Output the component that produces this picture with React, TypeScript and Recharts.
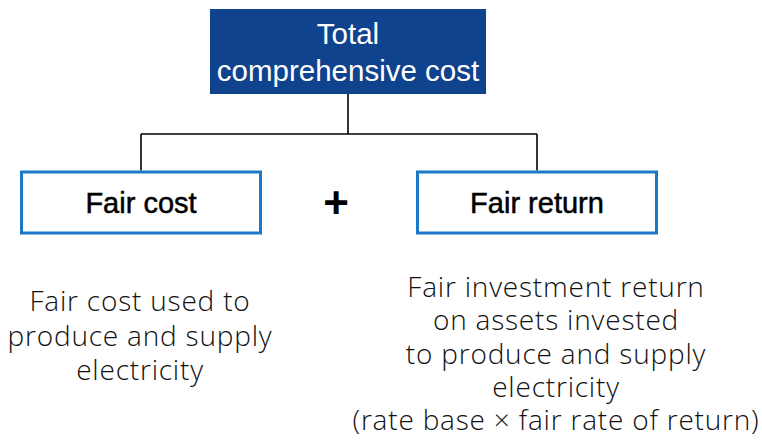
import React from "react";
import { ScatterChart, Scatter, XAxis, YAxis, ReferenceLine } from "recharts";

// diagram nodes (centre positions in a 762 x 441 layout space)
const nodeNames = ["total", "cost", "return"];
const nodeLines = [["Total", "comprehensive cost"], ["Fair cost"], ["Fair return"]];
const nodeX = [348, 141, 537];
const nodeY = [51.5, 202.5, 202.5];

// explanatory notes under each child box (first baseline)
const noteLines = [
  ["Fair cost used to", "produce and supply", "electricity"],
  [
    "Fair investment return",
    "on assets invested",
    "to produce and supply",
    "electricity",
    "(rate base × fair rate of return)",
  ],
];
const noteX = [140, 556];
const noteY = [311, 297];

const operatorX = [336];
const operatorY = [202];

const W = 762;
const H = 441;
const BOX_FONT = "'Liberation Sans', Arial, sans-serif";
const NOTE_FONT = "'Open Sans', 'Noto Sans', sans-serif";
const DARK_BLUE = "#10438e";
const LINE_BLUE = "#1b78c8";
const BUS_Y = 134;

const boxSize = (i: number) => (i === 0 ? { w: 276, h: 85 } : { w: 242, h: 64 });

const nodes = nodeNames.map((name, i) => ({
  name,
  lines: nodeLines[i],
  x: nodeX[i],
  y: nodeY[i],
  idx: i,
}));
const notes = noteLines.map((lines, i) => ({ lines, x: noteX[i], y: noteY[i] }));
const ops = operatorX.map((x, i) => ({ x, y: operatorY[i] }));

const NodeShape = (props: any) => {
  const { cx, cy, payload } = props;
  const { w, h } = boxSize(payload.idx);
  const isTop = payload.idx === 0;
  const n = payload.lines.length;
  const lh = 37;
  return (
    <g>
      {isTop ? (
        <rect x={cx - w / 2} y={cy - h / 2} width={w} height={h} fill={DARK_BLUE} />
      ) : (
        <rect
          x={cx - w / 2 + 1.5}
          y={cy - h / 2 + 1.5}
          width={w - 3}
          height={h - 3}
          fill="#fff"
          stroke={LINE_BLUE}
          strokeWidth={3}
        />
      )}
      {payload.lines.map((t: string, k: number) => (
        <text
          key={k}
          x={cx}
          y={cy + (k - (n - 1) / 2) * lh}
          dy="0.36em"
          textAnchor="middle"
          fontFamily={BOX_FONT}
          fontSize={isTop ? 29.5 : 29}
          fill={isTop ? "#fff" : "#000"}
          stroke={isTop ? "none" : "#000"}
          strokeWidth={isTop ? 0 : 0.5}
        >
          {t}
        </text>
      ))}
    </g>
  );
};

const NoteShape = (props: any) => {
  const { cx, cy, payload } = props;
  const lh = payload.lines.length > 3 ? 33.3 : 34.5;
  return (
    <text
      x={cx}
      y={cy}
      textAnchor="middle"
      fontFamily={NOTE_FONT}
      fontSize={28}
      fontWeight={300}
      letterSpacing={0.8}
      fill="#111"
    >
      {payload.lines.map((t: string, k: number) => (
        <tspan key={k} x={cx} y={cy + k * lh}>
          {t}
        </tspan>
      ))}
    </text>
  );
};

const OpShape = (props: any) => {
  const { cx, cy } = props;
  return (
    <text
      x={cx}
      y={cy}
      dy="0.36em"
      textAnchor="middle"
      fontFamily={BOX_FONT}
      fontSize={44}
      fontWeight={700}
      fill="#000"
    >
      +
    </text>
  );
};

export default function App() {
  const top = nodes[0];
  const topH = boxSize(0).h;
  const childH = boxSize(1).h;
  return (
    <div style={{ position: "absolute", left: 0, top: 0, background: "#fff" }}>
      <ScatterChart width={W} height={H} margin={{ top: 0, right: 0, bottom: 0, left: 0 }}>
        <XAxis type="number" dataKey="x" domain={[0, W]} hide />
        <YAxis type="number" dataKey="y" domain={[0, H]} reversed hide />
        <ReferenceLine
          segment={[
            { x: top.x, y: top.y + topH / 2 },
            { x: top.x, y: BUS_Y },
          ]}
          stroke="#000"
          strokeWidth={1.6}
        />
        <ReferenceLine
          segment={[
            { x: nodes[1].x, y: BUS_Y },
            { x: nodes[2].x, y: BUS_Y },
          ]}
          stroke="#000"
          strokeWidth={1.6}
        />
        {nodes.slice(1).map((nd) => (
          <ReferenceLine
            key={nd.name}
            segment={[
              { x: nd.x, y: BUS_Y },
              { x: nd.x, y: nd.y - childH / 2 },
            ]}
            stroke="#000"
            strokeWidth={1.6}
          />
        ))}
        <Scatter data={nodes} shape={NodeShape} isAnimationActive={false} />
        <Scatter data={ops} shape={OpShape} isAnimationActive={false} />
        <Scatter data={notes} shape={NoteShape} isAnimationActive={false} />
      </ScatterChart>
    </div>
  );
}
